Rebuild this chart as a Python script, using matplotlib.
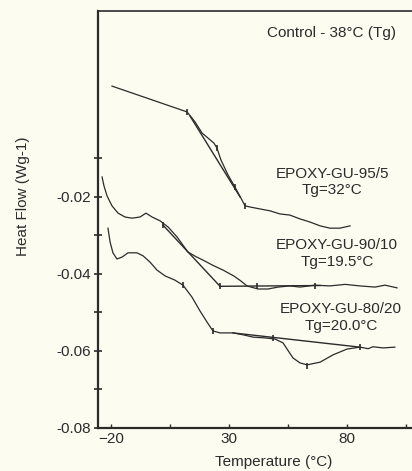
import matplotlib
matplotlib.use('Agg')
import matplotlib.pyplot as plt

plt.rcParams['font.family'] = ['Liberation Sans', 'DejaVu Sans']

# DSC traces, temperature (C) vs heat flow (W/g)
t_955 = [-19.6, 12.2, 15.6, 18.6, 21.1, 23.6, 24.9, 26.6, 29.6, 32.5, 35.5, 36.8,
         38.9, 43.1, 47.4, 51.6, 55.8, 60.1, 64.3, 68.6, 72.8, 77.0, 81.3]
q_955 = [0.0088, 0.0021, -0.0005, -0.0034, -0.0047, -0.0060, -0.0073, -0.0104,
         -0.0143, -0.0174, -0.0208, -0.0223, -0.0226, -0.0231, -0.0236, -0.0244,
         -0.0247, -0.0257, -0.0265, -0.0275, -0.0281, -0.0281, -0.0275]
tan_955_t = [13.5, 34.7]
tan_955_q = [0.0010, -0.0200]
mark_955_t = [12.2, 24.9, 32.5, 36.8]
mark_955_q = [0.0021, -0.0073, -0.0174, -0.0223]

t_9010 = [-23.8, -23.0, -21.7, -19.6, -17.0, -14.1, -11.1, -7.7, -5.2, -2.6, 0.8,
          4.2, 8.0, 12.6, 16.0, 19.0, 23.0, 27.5, 32.0, 35.0, 37.6, 42.3, 46.5,
          50.8, 55.8, 60.1, 66.4, 72.8, 79.2, 85.5, 91.9, 96.1, 101.2]
q_9010 = [-0.0148, -0.0171, -0.0197, -0.0223, -0.0242, -0.0252, -0.0255, -0.0252,
          -0.0242, -0.0252, -0.0262, -0.0278, -0.0304, -0.0343, -0.0355, -0.0364,
          -0.0377, -0.0390, -0.0405, -0.0418, -0.0431, -0.0439, -0.0439, -0.0434,
          -0.0431, -0.0434, -0.0429, -0.0431, -0.0427, -0.0431, -0.0434, -0.0429,
          -0.0436]
tan_9010_t = [2.0, 26.2, 68.6]
tan_9010_q = [-0.0273, -0.0432, -0.0430]
mark_9010_t = [2.0, 26.2, 41.9, 66.4]
mark_9010_q = [-0.0273, -0.0432, -0.0431, -0.0430]

t_8020 = [-21.3, -20.4, -19.2, -17.5, -15.3, -12.8, -9.0, -6.4, -3.5, -0.5, 2.9,
          7.1, 10.5, 14.3, 17.7, 20.7, 23.2, 26.2, 31.7, 36.0, 40.2, 45.3, 49.5,
          52.9, 57.1, 60.1, 63.1, 68.6, 74.1, 80.0, 85.5, 89.0, 91.0, 95.3, 100.3]
q_8020 = [-0.0281, -0.0317, -0.0345, -0.0361, -0.0356, -0.0345, -0.0345, -0.0353,
          -0.0369, -0.0390, -0.0405, -0.0416, -0.0429, -0.0460, -0.0496, -0.0525,
          -0.0548, -0.0553, -0.0553, -0.0558, -0.0564, -0.0566, -0.0569, -0.0579,
          -0.0618, -0.0631, -0.0636, -0.0629, -0.0610, -0.0595, -0.0590, -0.0594,
          -0.0589, -0.0592, -0.0590]
tan_8020_t = [31.7, 85.5]
tan_8020_q = [-0.0553, -0.0590]
mark_8020_t = [10.5, 23.2, 48.6, 63.1, 85.5]
mark_8020_q = [-0.0429, -0.0548, -0.0565, -0.0638, -0.0590]

labels = ['EPOXY-GU-95/5\nTg=32°C', 'EPOXY-GU-90/10\nTg=19.5°C',
          'EPOXY-GU-80/20\nTg=20.0°C']
label_pos = [(0.728, 0.590), (0.744, 0.418), (0.756, 0.265)]

bg = '#fcfcf0'
ink = '#2b2b2b'
fig = plt.figure(figsize=(4.12, 4.71), dpi=100, facecolor=bg)
ax = fig.add_axes([0.238, 0.0913, 0.78, 0.8853], facecolor=bg)

curves = [(t_955, q_955, tan_955_t, tan_955_q, mark_955_t, mark_955_q),
          (t_9010, q_9010, tan_9010_t, tan_9010_q, mark_9010_t, mark_9010_q),
          (t_8020, q_8020, tan_8020_t, tan_8020_q, mark_8020_t, mark_8020_q)]
for t, q, tt, tq, mt, mq in curves:
    ax.plot(t, q, color=ink, lw=0.9)
    ax.plot(tt, tq, color=ink, lw=1.0)
    ax.plot(mt, mq, ls='none', marker='|', ms=5, mew=1.2, color=ink)

ax.set_xlim(-25.5, 110.7)
ax.set_ylim(-0.08, 0.0283)

ax.set_xticks([-20, 30, 80])
ax.set_xticks([5, 55, 105], minor=True)
ax.set_yticks([-0.08, -0.06, -0.04, -0.02])
ax.set_yticks([-0.07, -0.05, -0.03, -0.01], minor=True)
ax.tick_params(axis='x', which='both', direction='in', length=3, width=1,
               labelsize=11, pad=3, colors=ink)
ax.tick_params(axis='y', which='both', direction='inout', length=6, width=1.2,
               labelsize=11, pad=2, colors=ink)
ax.yaxis.set_major_formatter(plt.FuncFormatter(lambda v, p: '%.2f' % v))

for side in ['left', 'bottom']:
    ax.spines[side].set_linewidth(1.6)
    ax.spines[side].set_color(ink)
ax.spines['top'].set_linewidth(1.2)
ax.spines['top'].set_color(ink)
ax.spines['right'].set_visible(False)

ax.set_xlabel('Temperature (°C)', fontsize=11, color=ink)
ax.xaxis.set_label_coords(0.545, -0.065)
ax.set_ylabel('Heat Flow (Wg-1)', fontsize=11, color=ink)
ax.yaxis.set_label_coords(-0.212, 0.555)

ax.text(0.725, 0.947, 'Control - 38°C (Tg)', transform=ax.transAxes,
        ha='center', va='center', fontsize=11, color=ink)
for txt, (x, y) in zip(labels, label_pos):
    ax.text(x, y, txt, transform=ax.transAxes, ha='center', va='center',
            fontsize=11, color=ink, linespacing=1.25)

fig.savefig('out.png', dpi=100, facecolor=bg)
